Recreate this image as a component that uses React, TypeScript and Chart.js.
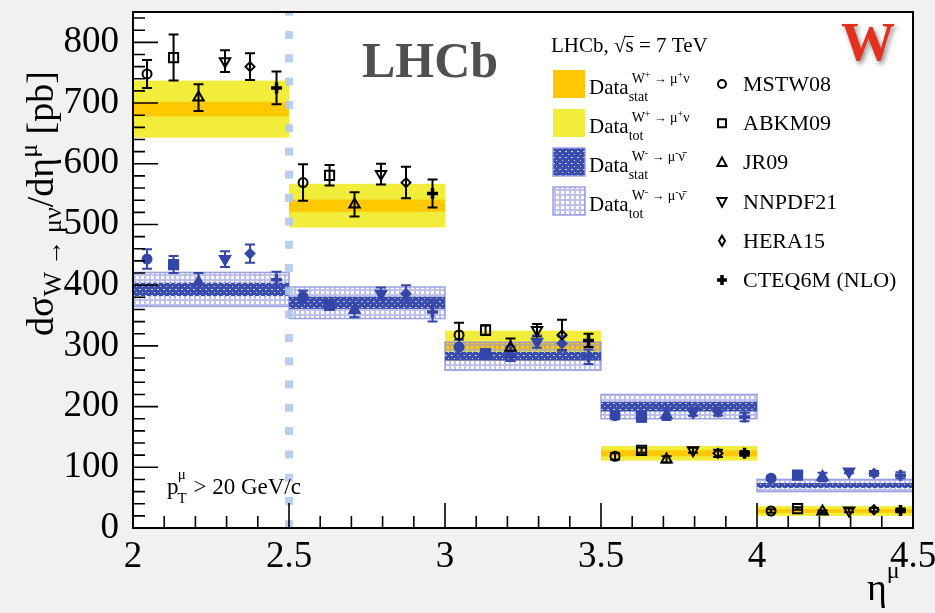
import React, { useEffect, useRef } from 'react';
import { Chart, registerables } from 'chart.js';

Chart.register(...registerables);

// ---- Measured differential cross-sections per eta bin ----
const binEdges = [2, 2.5, 3, 3.5, 4, 4.5];
const wPlusValue = [690, 531, 300, 123, 28];
const wPlusStat = [12, 10, 6, 5, 3];
const wPlusTot = [47, 36, 25, 12, 8];
const wMinusValue = [393, 371, 283, 200, 70];
const wMinusStat = [11, 10, 7, 8, 4];
const wMinusTot = [28, 26, 23, 20, 10];

// ---- NNLO predictions (W+ -> mu+ nu) ----
const mstw08Plus = [748, 569, 318, 118, 28];
const mstw08PlusErr = [23, 30, 20, 5, 3];
const abkm09Plus = [775, 581, 326, 128, 32];
const abkm09PlusErr = [38, 17, 8, 4, 2];
const jr09Plus = [709, 533, 297, 113, 27];
const jr09PlusErr = [22, 20, 15, 5, 2];
const nnpdf21Plus = [769, 583, 326, 128, 29];
const nnpdf21PlusErr = [18, 17, 10, 4, 3];
const hera15Plus = [760, 569, 318, 123, 30];
const hera15PlusErr = [22, 26, 25, 6, 3];
const cteq6mPlus = [725, 551, 309, 123, 29];
const cteq6mPlusErr = [27, 23, 11, 4, 3];

// ---- NNLO predictions (W- -> mu- nubar) ----
const mstw08Minus = [443, 381, 298, 185, 82];
const mstw08MinusErr = [16, 10, 12, 6, 3];
const abkm09Minus = [434, 367, 287, 183, 87];
const abkm09MinusErr = [14, 8, 8, 8, 3];
const jr09Minus = [405, 359, 287, 186, 84];
const jr09MinusErr = [15, 12, 12, 8, 7];
const nnpdf21Minus = [443, 386, 307, 191, 93];
const nnpdf21MinusErr = [13, 10, 10, 6, 3];
const hera15Minus = [452, 386, 304, 191, 90];
const hera15MinusErr = [15, 14, 12, 6, 4];
const cteq6mMinus = [409, 356, 282, 183, 87];
const cteq6mMinusErr = [13, 16, 12, 7, 5];

const modelNames = ['MSTW08', 'ABKM09', 'JR09', 'NNPDF21', 'HERA15', 'CTEQ6M (NLO)'];
const modelOffsets = [0.045, 0.13, 0.21, 0.295, 0.375, 0.46];

const xTickValues = [2, 2.5, 3, 3.5, 4, 4.5];
const yTickValues = [0, 100, 200, 300, 400, 500, 600, 700, 800];

const FONT = '"Liberation Serif", "Times New Roman", serif';
const BLACK = '#000000';
const BLUE = '#3446a8';
const ORANGE = '#ffc800';
const YELLOW = '#f2ec3a';

type Marker = { style: string; radius: number; rotation: number; width: number };
const markers: Marker[] = [
  { style: 'circle', radius: 4.5, rotation: 0, width: 2 },
  { style: 'rect', radius: 6.5, rotation: 0, width: 2 },
  { style: 'triangle', radius: 6, rotation: 0, width: 2 },
  { style: 'triangle', radius: 6, rotation: 180, width: 2 },
  { style: 'rectRot', radius: 4.5, rotation: 0, width: 2 },
  { style: 'cross', radius: 5.5, rotation: 0, width: 3.5 },
];

const plusSeries = [mstw08Plus, abkm09Plus, jr09Plus, nnpdf21Plus, hera15Plus, cteq6mPlus];
const plusErrors = [mstw08PlusErr, abkm09PlusErr, jr09PlusErr, nnpdf21PlusErr, hera15PlusErr, cteq6mPlusErr];
const minusSeries = [mstw08Minus, abkm09Minus, jr09Minus, nnpdf21Minus, hera15Minus, cteq6mMinus];
const minusErrors = [mstw08MinusErr, abkm09MinusErr, jr09MinusErr, nnpdf21MinusErr, hera15MinusErr, cteq6mMinusErr];

type Part = { t: string; size: number; dy?: number; dx?: number; bold?: boolean };

function drawRich(ctx: CanvasRenderingContext2D, parts: Part[], x: number, y: number): number {
  let cx = x;
  for (const p of parts) {
    ctx.font = `${p.bold ? 'bold ' : ''}${p.size}px ${FONT}`;
    cx += p.dx || 0;
    ctx.fillText(p.t, cx, y + (p.dy || 0));
    cx += ctx.measureText(p.t).width;
  }
  return cx - x;
}

function statPattern(ctx: CanvasRenderingContext2D): CanvasPattern | string {
  const c = document.createElement('canvas');
  c.width = 6;
  c.height = 6;
  const g = c.getContext('2d');
  if (!g) return BLUE;
  g.fillStyle = '#3a4db0';
  g.fillRect(0, 0, 6, 6);
  g.fillStyle = 'rgba(235,238,255,0.85)';
  g.fillRect(1, 1, 2, 1);
  g.fillRect(4, 4, 1, 1);
  return ctx.createPattern(c, 'repeat') || BLUE;
}

function totPattern(ctx: CanvasRenderingContext2D): CanvasPattern | string {
  const c = document.createElement('canvas');
  c.width = 5;
  c.height = 5;
  const g = c.getContext('2d');
  if (!g) return '#c8cbef';
  g.fillStyle = 'rgba(146,152,222,0.6)';
  g.fillRect(0, 0, 5, 5);
  g.clearRect(1, 1, 3, 3);
  return ctx.createPattern(c, 'repeat') || '#c8cbef';
}

function drawMarkerShape(ctx: CanvasRenderingContext2D, idx: number, x: number, y: number, color: string) {
  ctx.save();
  ctx.strokeStyle = color;
  ctx.fillStyle = color;
  ctx.lineWidth = 2;
  ctx.beginPath();
  if (idx === 0) {
    ctx.arc(x, y, 4, 0, Math.PI * 2);
  } else if (idx === 1) {
    ctx.rect(x - 4, y - 4, 8, 8);
  } else if (idx === 2) {
    ctx.moveTo(x, y - 5); ctx.lineTo(x + 4.5, y + 3.5); ctx.lineTo(x - 4.5, y + 3.5); ctx.closePath();
  } else if (idx === 3) {
    ctx.moveTo(x, y + 5); ctx.lineTo(x + 4.5, y - 3.5); ctx.lineTo(x - 4.5, y - 3.5); ctx.closePath();
  } else if (idx === 4) {
    ctx.moveTo(x, y - 5); ctx.lineTo(x + 3, y); ctx.lineTo(x, y + 5); ctx.lineTo(x - 3, y); ctx.closePath();
  } else {
    ctx.lineWidth = 3.5;
    ctx.moveTo(x - 5, y); ctx.lineTo(x + 5, y); ctx.moveTo(x, y - 5); ctx.lineTo(x, y + 5);
  }
  ctx.stroke();
  ctx.restore();
}

const framePlugin = {
  id: 'lhcbFrame',
  beforeDraw(chart: any) {
    const { ctx, chartArea, width, height } = chart;
    ctx.save();
    ctx.fillStyle = '#f1f1f1';
    ctx.fillRect(0, 0, width, height);
    ctx.fillStyle = '#ffffff';
    ctx.fillRect(chartArea.left, chartArea.top, chartArea.right - chartArea.left, chartArea.bottom - chartArea.top);
    ctx.restore();
  },
  beforeDatasetsDraw(chart: any) {
    const { ctx, chartArea } = chart;
    const xs = chart.scales.x;
    const ys = chart.scales.y;
    const stat = statPattern(ctx);
    const tot = totPattern(ctx);
    ctx.save();
    const band = (i: number, lo: number, hi: number) => {
      const x0 = xs.getPixelForValue(binEdges[i]);
      const x1 = xs.getPixelForValue(binEdges[i + 1]);
      const y0 = ys.getPixelForValue(hi);
      const y1 = ys.getPixelForValue(lo);
      return [x0, y0, x1 - x0, y1 - y0];
    };
    for (let i = 0; i < wPlusValue.length; i++) {
      let r = band(i, wPlusValue[i] - wPlusTot[i], wPlusValue[i] + wPlusTot[i]);
      ctx.fillStyle = YELLOW;
      ctx.fillRect(r[0], r[1], r[2], r[3]);
      r = band(i, wPlusValue[i] - wPlusStat[i], wPlusValue[i] + wPlusStat[i]);
      ctx.fillStyle = ORANGE;
      ctx.fillRect(r[0], r[1], r[2], r[3]);
    }
    for (let i = 0; i < wMinusValue.length; i++) {
      let r = band(i, wMinusValue[i] - wMinusTot[i], wMinusValue[i] + wMinusTot[i]);
      ctx.fillStyle = tot;
      ctx.fillRect(r[0], r[1], r[2], r[3]);
      ctx.strokeStyle = 'rgba(146,152,222,0.9)';
      ctx.lineWidth = 1.5;
      ctx.strokeRect(r[0], r[1], r[2], r[3]);
      r = band(i, wMinusValue[i] - wMinusStat[i], wMinusValue[i] + wMinusStat[i]);
      ctx.fillStyle = stat;
      ctx.fillRect(r[0], r[1], r[2], r[3]);
    }
    // acceptance boundary at eta = 2.5
    const xb = xs.getPixelForValue(2.5);
    ctx.strokeStyle = 'rgba(176,202,238,0.9)';
    ctx.lineWidth = 8;
    ctx.setLineDash([8, 15.3]);
    ctx.lineDashOffset = 4.3;
    ctx.beginPath();
    ctx.moveTo(xb, chartArea.top);
    ctx.lineTo(xb, chartArea.bottom);
    ctx.stroke();
    ctx.setLineDash([]);

    // error bars on the predictions
    chart.data.datasets.forEach((ds: any) => {
      ctx.strokeStyle = ds.barColor;
      ctx.lineWidth = 2;
      ds.data.forEach((p: any, k: number) => {
        const e = ds.errors[k];
        const px = xs.getPixelForValue(p.x);
        const yt = ys.getPixelForValue(p.y + e);
        const yb = ys.getPixelForValue(p.y - e);
        ctx.beginPath();
        ctx.moveTo(px, yt); ctx.lineTo(px, yb);
        ctx.moveTo(px - 5, yt); ctx.lineTo(px + 5, yt);
        ctx.moveTo(px - 5, yb); ctx.lineTo(px + 5, yb);
        ctx.stroke();
      });
    });
    ctx.restore();
  },
  afterDatasetsDraw(chart: any) {
    const { ctx, chartArea } = chart;
    const xs = chart.scales.x;
    const ys = chart.scales.y;
    ctx.save();
    ctx.strokeStyle = BLACK;
    ctx.lineWidth = 2;
    ctx.strokeRect(chartArea.left, chartArea.top, chartArea.right - chartArea.left, chartArea.bottom - chartArea.top);
    ctx.lineWidth = 1.6;
    ctx.beginPath();
    for (let k = 0; k <= 25; k++) {
      const v = 2 + k * 0.1;
      const px = xs.getPixelForValue(v);
      const len = k % 5 === 0 ? 25 : 12;
      ctx.moveTo(px, chartArea.bottom);
      ctx.lineTo(px, chartArea.bottom - len);
    }
    for (let k = 0; k <= 42; k++) {
      const v = k * 20;
      const py = ys.getPixelForValue(v);
      const len = k % 5 === 0 ? 25 : 12;
      ctx.moveTo(chartArea.left, py);
      ctx.lineTo(chartArea.left + len, py);
    }
    ctx.stroke();
    ctx.restore();
  },
  afterDraw(chart: any) {
    const { ctx } = chart;
    const stat = statPattern(ctx);
    const tot = totPattern(ctx);
    ctx.save();
    ctx.textBaseline = 'alphabetic';
    ctx.textAlign = 'left';

    // y axis title
    ctx.save();
    ctx.fillStyle = BLACK;
    ctx.translate(53, 336);
    ctx.rotate(-Math.PI / 2);
    drawRich(ctx, [
      { t: 'd\u03c3', size: 38 },
      { t: 'W', size: 26, dy: 8 },
      { t: ' \u2192 ', size: 26, dy: 8 },
      { t: '\u03bc\u03bd', size: 26, dy: 8 },
      { t: '/d\u03b7', size: 38 },
      { t: '\u03bc', size: 26, dy: -16 },
      { t: ' [pb]', size: 38 },
    ], 0, 0);
    ctx.restore();

    // x axis title
    ctx.fillStyle = BLACK;
    drawRich(ctx, [{ t: '\u03b7', size: 38 }, { t: '\u03bc', size: 24, dy: -22 }], 867, 600);

    // experiment label
    ctx.fillStyle = '#505050';
    ctx.font = `bold 50px ${FONT}`;
    ctx.fillText('LHCb', 362, 77);

    // W logo with soft shadow
    ctx.save();
    ctx.font = `bold 54px ${FONT}`;
    ctx.shadowColor = 'rgba(60,60,60,0.6)';
    ctx.shadowBlur = 5;
    ctx.shadowOffsetX = 2;
    ctx.shadowOffsetY = 3;
    ctx.fillStyle = '#e4301e';
    ctx.fillText('W', 841, 60);
    ctx.restore();

    // kinematic cut
    ctx.fillStyle = BLACK;
    drawRich(ctx, [
      { t: 'p', size: 23 },
      { t: 'T', size: 15, dy: 9, dx: -1 },
      { t: '\u03bc', size: 15, dy: -15, dx: -9 },
      { t: ' > 20 GeV/c', size: 23, dx: 2 },
    ], 167, 494);

    // legend header
    ctx.font = `21px ${FONT}`;
    const head1 = 'LHCb, \u221a';
    ctx.fillText(head1, 551, 52);
    const w1 = ctx.measureText(head1).width;
    const sW = ctx.measureText('s').width;
    ctx.fillText('s = 7 TeV', 551 + w1, 52);
    ctx.lineWidth = 1;
    ctx.strokeStyle = BLACK;
    ctx.beginPath();
    ctx.moveTo(551 + w1 - 1, 36.5);
    ctx.lineTo(551 + w1 + sW, 36.5);
    ctx.stroke();

    // legend boxes for the measurements
    const rows = [94, 133, 172, 211];
    const fills: any[] = [ORANGE, YELLOW, stat, tot];
    rows.forEach((b, i) => {
      const top = b - 24;
      ctx.fillStyle = fills[i];
      ctx.fillRect(553, top, 32, 28);
      if (i >= 2) {
        ctx.strokeStyle = 'rgba(146,152,222,0.9)';
        ctx.lineWidth = 1.5;
        ctx.strokeRect(553, top, 32, 28);
      }
      ctx.fillStyle = BLACK;
      ctx.font = `21px ${FONT}`;
      ctx.fillText('Data', 589, b);
      const wx = 589 + ctx.measureText('Data').width;
      drawRich(ctx, [{ t: i % 2 === 0 ? 'stat' : 'tot', size: 14 }], wx, b + 7);
      const sign = i < 2 ? '+' : '-';
      const nu = i < 2 ? '\u03bd' : '\u03bd\u0304';
      drawRich(ctx, [
        { t: 'W', size: 14 },
        { t: sign, size: 10, dy: -5 },
        { t: ' \u2192 ', size: 13 },
        { t: '\u03bc', size: 14 },
        { t: sign, size: 10, dy: -5 },
        { t: nu, size: 14 },
      ], wx + 3, b - 11);
    });

    // legend entries for the predictions
    modelNames.forEach((name, i) => {
      const cy = 84 + i * 39.2;
      drawMarkerShape(ctx, i, 722, cy, BLACK);
      ctx.fillStyle = BLACK;
      ctx.font = `22px ${FONT}`;
      ctx.fillText(name, 743, cy + 7);
    });
    ctx.restore();
  },
};

function buildDatasets() {
  const sets: any[] = [];
  const add = (series: number[][], errs: number[][], color: string, filled: boolean) => {
    series.forEach((vals, m) => {
      const mk = markers[m];
      sets.push({
        label: modelNames[m],
        data: vals.map((v, i) => ({ x: binEdges[i] + modelOffsets[m], y: v })),
        errors: errs[m],
        barColor: color,
        pointStyle: mk.style,
        pointRadius: mk.radius,
        pointRotation: mk.rotation,
        pointBorderWidth: mk.width,
        pointBorderColor: color,
        pointBackgroundColor: filled ? color : 'rgba(0,0,0,0)',
        showLine: false,
      });
    });
  };
  add(plusSeries, plusErrors, BLACK, false);
  add(minusSeries, minusErrors, BLUE, true);
  return sets;
}

export default function App() {
  const ref = useRef<HTMLCanvasElement | null>(null);
  useEffect(() => {
    document.body.style.margin = '0';
    const canvas = ref.current;
    if (!canvas) return;
    const tickFont = { family: FONT, size: 37 };
    const chart = new Chart(canvas, {
      type: 'scatter',
      data: { datasets: buildDatasets() },
      options: {
        responsive: false,
        maintainAspectRatio: false,
        animation: false,
        devicePixelRatio: 1,
        layout: { padding: { top: 12, right: 22, left: 0, bottom: 0 } },
        plugins: { legend: { display: false }, tooltip: { enabled: false } },
        scales: {
          x: {
            type: 'linear',
            min: 2,
            max: 4.5,
            afterBuildTicks: (s: any) => { s.ticks = xTickValues.map((v) => ({ value: v })); },
            afterFit: (s: any) => { s.height = 85; s.paddingLeft = 0; s.paddingRight = 0; },
            grid: { display: false },
            border: { display: false },
            ticks: { color: BLACK, font: tickFont, padding: -1, autoSkip: false, maxRotation: 0, callback: (v: any) => String(v) },
          },
          y: {
            type: 'linear',
            min: 0,
            max: 850,
            afterBuildTicks: (s: any) => { s.ticks = yTickValues.map((v) => ({ value: v })); },
            afterFit: (s: any) => { s.width = 133; s.paddingTop = 0; s.paddingBottom = 0; },
            grid: { display: false },
            border: { display: false },
            ticks: { color: BLACK, font: tickFont, padding: 6, callback: (v: any) => String(v) },
          },
        },
      } as any,
      plugins: [framePlugin],
    });
    return () => chart.destroy();
  }, []);
  return <canvas ref={ref} width={935} height={613} style={{ display: 'block' }} />;
}
